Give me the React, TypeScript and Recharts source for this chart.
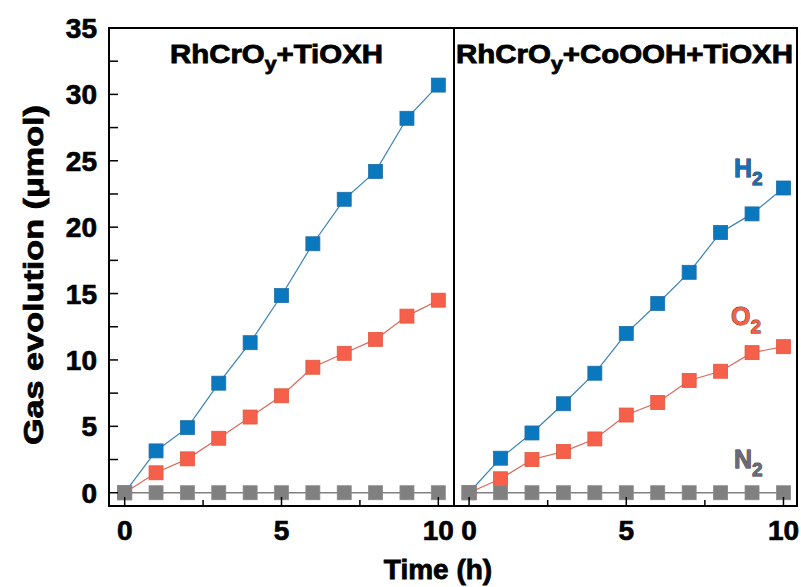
import { LineChart, Line, XAxis, YAxis } from "recharts";

const hours = [0, 1, 2, 3, 4, 5, 6, 7, 8, 9, 10];

// RhCrOy+TiOXH
const h2Left = [0, 3.15, 4.9, 8.25, 11.3, 14.85, 18.75, 22.1, 24.2, 28.2, 30.7];
const o2Left = [0, 1.5, 2.55, 4.1, 5.7, 7.3, 9.45, 10.5, 11.55, 13.3, 14.5];
const n2Left = [0, 0, 0, 0, 0, 0, 0, 0, 0, 0, 0];

// RhCrOy+CoOOH+TiOXH
const h2Right = [0, 2.6, 4.5, 6.7, 9.0, 12.0, 14.25, 16.6, 19.6, 21.0, 22.95];
const o2Right = [0, 1.05, 2.5, 3.1, 4.05, 5.85, 6.8, 8.45, 9.15, 10.55, 11.0];
const n2Right = [0, 0, 0, 0, 0, 0, 0, 0, 0, 0, 0];

const xTicks = [0, 2.5, 5, 7.5, 10];
const yTicks = [0, 2.5, 5, 7.5, 10, 12.5, 15, 17.5, 20, 22.5, 25, 27.5, 30, 32.5, 35];

const BLUE = "#0a78bf";
const ORANGE = "#f6604a";
const GRAY = "#808080";
const FONT = "'Liberation Sans', Arial, sans-serif";

const leftData = hours.map((t, i) => ({ t, h2: h2Left[i], o2: o2Left[i], n2: n2Left[i] }));
const rightData = hours.map((t, i) => ({ t, h2: h2Right[i], o2: o2Right[i], n2: n2Right[i] }));

function squareDot(fill: string, stroke: string) {
  return (p: any) => (
    <rect key={p.index} x={p.cx - 7} y={p.cy - 7} width={14} height={14} fill={fill} stroke={stroke} strokeWidth={0.8} />
  );
}

function XTick(p: any) {
  const v = p.payload.value;
  const major = v % 5 === 0;
  return (
    <g>
      <line x1={p.x} y1={p.y} x2={p.x} y2={p.y - (major ? 9 : 6)} stroke="#000" strokeWidth={1.5} />
      {major && (
        <text x={p.x} y={p.y + 34} textAnchor="middle" fontFamily={FONT} fontWeight={700} fontSize={28}
          stroke="#000" strokeWidth={0.7} fill="#000">
          {v}
        </text>
      )}
    </g>
  );
}

function YTick(p: any) {
  const v = p.payload.value;
  const major = v % 5 === 0;
  return (
    <g>
      <line x1={p.x} y1={p.y} x2={p.x + 9} y2={p.y} stroke="#000" strokeWidth={1.5} />
      {major && (
        <text x={p.x - 12} y={p.y + 10} textAnchor="end" fontFamily={FONT} fontWeight={700} fontSize={28}
          stroke="#000" strokeWidth={0.7} fill="#000">
          {v}
        </text>
      )}
    </g>
  );
}

function Series() {
  return [
    <Line key="h2" dataKey="h2" type="linear" stroke="#3a82b6" strokeWidth={1.2} dot={squareDot(BLUE, "#1f6fa6")} isAnimationActive={false} />,
    <Line key="o2" dataKey="o2" type="linear" stroke="#d9695a" strokeWidth={1.2} dot={squareDot(ORANGE, "#e0583f")} isAnimationActive={false} />,
    <Line key="n2" dataKey="n2" type="linear" stroke={GRAY} strokeWidth={1.5} dot={squareDot(GRAY, "#8a8a8a")} isAnimationActive={false} />,
  ];
}

const labelStyle = { fontFamily: FONT, fontWeight: 700 } as const;

export default function App() {
  return (
    <div style={{ position: "absolute", left: 0, top: 0, width: 801, height: 587, background: "#fff" }}>
      <div style={{ position: "absolute", left: 0, top: 0 }}>
        <LineChart width={460} height={587} data={leftData} margin={{ top: 28, right: 6, bottom: 1, left: 0 }}>
          <XAxis dataKey="t" type="number" domain={[-0.5, 10.5]} ticks={xTicks} height={80}
            axisLine={false} tickLine={false} tickSize={0} tickMargin={0} tick={XTick} interval={0} allowDataOverflow />
          <YAxis type="number" domain={[-1, 35]} ticks={yTicks} width={109}
            axisLine={false} tickLine={false} tickSize={0} tickMargin={0} tick={YTick} interval={0} allowDataOverflow />
          {Series()}
        </LineChart>
      </div>
      <div style={{ position: "absolute", left: 454, top: 0 }}>
        <LineChart width={347} height={587} data={rightData} margin={{ top: 28, right: 4, bottom: 1, left: 0 }}>
          <XAxis dataKey="t" type="number" domain={[-0.48, 10.43]} ticks={xTicks} height={80}
            axisLine={false} tickLine={false} tickSize={0} tickMargin={0} tick={XTick} interval={0} allowDataOverflow />
          <YAxis type="number" domain={[-1, 35]} ticks={yTicks} hide allowDataOverflow />
          {Series()}
        </LineChart>
      </div>
      <svg width={801} height={587} style={{ position: "absolute", left: 0, top: 0, pointerEvents: "none" }}>
        <rect x={109} y={28} width={688} height={478} fill="none" stroke="#000" strokeWidth={2} />
        <line x1={454} y1={28} x2={454} y2={506} stroke="#000" strokeWidth={2} />

        <text x={170} y={63} textLength={213} lengthAdjust="spacingAndGlyphs" fontSize={25} {...labelStyle}
          stroke="#000" strokeWidth={0.8} fill="#000">
          RhCrO<tspan dy={7} fontSize={18}>y</tspan><tspan dy={-7}>+TiOXH</tspan>
        </text>
        <text x={456} y={63} textLength={337} lengthAdjust="spacingAndGlyphs" fontSize={25} {...labelStyle}
          stroke="#000" strokeWidth={0.8} fill="#000">
          RhCrO<tspan dy={7} fontSize={18}>y</tspan><tspan dy={-7}>+CoOOH+TiOXH</tspan>
        </text>

        <text x={734} y={177} fontSize={25} {...labelStyle} fill="#1670b4" stroke="#1d2a3a" strokeWidth={0.8} paintOrder="stroke">
          H<tspan dy={8} fontSize={19}>2</tspan>
        </text>
        <text x={731} y={325} fontSize={25} {...labelStyle} fill={ORANGE} stroke="#3a2020" strokeWidth={0.8} paintOrder="stroke">
          O<tspan dy={8} fontSize={19}>2</tspan>
        </text>
        <text x={734} y={468} fontSize={25} {...labelStyle} fill="#6a6a7a" stroke="#2a2a3a" strokeWidth={0.8} paintOrder="stroke">
          N<tspan dy={8} fontSize={19}>2</tspan>
        </text>

        <text transform="translate(43,275) rotate(-90)" textAnchor="middle" textLength={340} lengthAdjust="spacingAndGlyphs"
          fontSize={28} {...labelStyle} stroke="#000" strokeWidth={0.8} fill="#000">
          Gas evolution (μmol)
        </text>
        <text x={438} y={579} textAnchor="middle" fontSize={28} {...labelStyle} stroke="#000" strokeWidth={0.8} fill="#000">
          Time (h)
        </text>
      </svg>
    </div>
  );
}
